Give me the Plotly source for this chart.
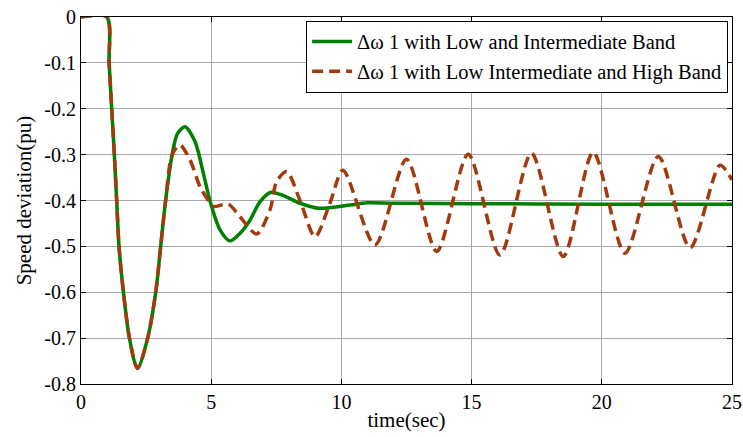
import plotly.graph_objects as go

# Time response of the speed deviation (pu) of generator 1
t_lib = [0.0, 0.99, 1.08, 1.18, 1.28, 1.37, 1.46, 1.63, 1.86, 2.17, 2.56, 2.87, 3.06, 3.25,
         3.5, 3.7, 3.99, 4.38, 4.7, 4.95, 5.34, 5.72, 6.1, 6.49, 6.87, 7.3, 7.8, 8.41,
         9.15, 10.33, 11.0, 12.0, 15.0, 20.0, 25.0]
dw_lib = [0.0, 0.0, -0.1, -0.2, -0.3, -0.4, -0.5, -0.6, -0.7, -0.766, -0.7, -0.6, -0.5, -0.4,
          -0.3, -0.255, -0.239, -0.272, -0.341, -0.4, -0.464, -0.488, -0.472, -0.443, -0.403,
          -0.382, -0.39, -0.406, -0.417, -0.41, -0.405, -0.406, -0.407, -0.408, -0.408]

t_lih = [0.0, 0.99, 1.08, 1.18, 1.28, 1.37, 1.46, 1.63, 1.86, 2.17, 2.56, 2.87, 3.06, 3.25,
         3.5, 3.8, 4.19, 4.57, 4.89, 5.08, 5.66, 6.1, 6.75, 7.26, 7.51, 7.9, 8.41, 8.99,
         9.56, 10.06, 11.29, 12.5, 13.66, 14.87, 16.09, 17.3, 18.52, 19.67, 20.89, 22.17,
         23.39, 24.54, 25.0]
dw_lih = [0.0, 0.0, -0.1, -0.2, -0.3, -0.4, -0.5, -0.6, -0.7, -0.766, -0.7, -0.6, -0.5, -0.4,
          -0.3, -0.279, -0.312, -0.37, -0.4, -0.413, -0.408, -0.435, -0.473, -0.42, -0.359,
          -0.337, -0.4, -0.479, -0.406, -0.334, -0.497, -0.310, -0.511, -0.299, -0.519,
          -0.297, -0.522, -0.295, -0.515, -0.304, -0.503, -0.323, -0.355]

x_ticks = [0, 5, 10, 15, 20, 25]
y_ticks = [0, -0.1, -0.2, -0.3, -0.4, -0.5, -0.6, -0.7, -0.8]
y_tick_text = ["0", "-0.1", "-0.2", "-0.3", "-0.4", "-0.5", "-0.6", "-0.7", "-0.8"]

FONT = "Liberation Serif"

fig = go.Figure()
fig.add_trace(go.Scatter(
    x=t_lib, y=dw_lib, mode="lines",
    name="\u0394\u03c9 1 with Low and Intermediate Band",
    line=dict(color="#008000", width=3.5, shape="spline", smoothing=0.8),
))
fig.add_trace(go.Scatter(
    x=t_lih, y=dw_lih, mode="lines",
    name="\u0394\u03c9 1 with Low Intermediate and High Band",
    line=dict(color="#a33a0e", width=3.5, dash="11px,6px", shape="spline", smoothing=0.8),
))

axis_common = dict(
    showgrid=True, gridcolor="#a8a8a8", gridwidth=1,
    showline=True, linecolor="black", linewidth=1.2, mirror="ticks",
    ticks="inside", ticklen=5, tickcolor="black",
    zeroline=False, automargin=False,
    tickfont=dict(family=FONT, size=20, color="black"),
)

fig.update_layout(
    width=743, height=437,
    margin=dict(l=81, r=11, t=17, b=53),
    paper_bgcolor="white", plot_bgcolor="white",
    font=dict(family=FONT, color="black"),
    xaxis=dict(range=[0, 25], tickvals=x_ticks,
               title=dict(text="time(sec)", font=dict(family=FONT, size=21), standoff=0),
               **axis_common),
    yaxis=dict(range=[-0.8, 0], tickvals=y_ticks, ticktext=y_tick_text,
               title=dict(text="Speed deviation(pu)", font=dict(family=FONT, size=21), standoff=6),
               **axis_common),
    legend=dict(
        x=0.994, y=0.99, xanchor="right", yanchor="top",
        bgcolor="white", bordercolor="black", borderwidth=1,
        font=dict(family=FONT, size=20.5, color="black"),
        tracegroupgap=0, itemwidth=40,
    ),
    showlegend=True,
)

fig.write_html("out.html")
